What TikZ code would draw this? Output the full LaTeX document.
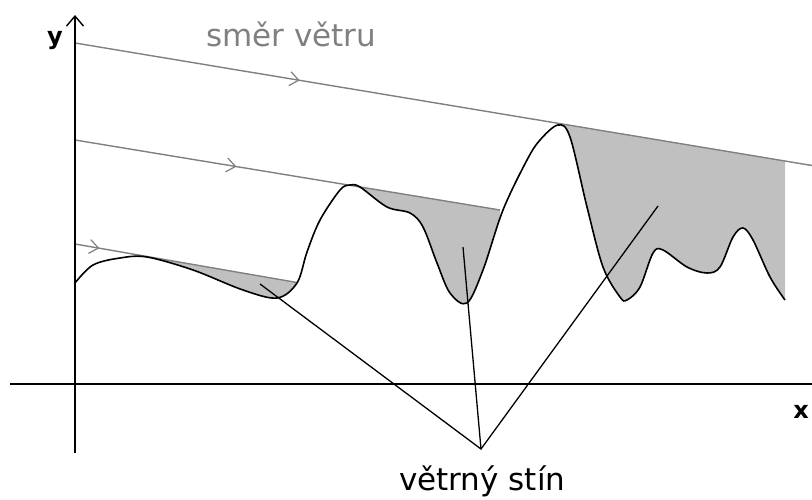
\documentclass[tikz,border=0pt]{standalone}
\usepackage{fontspec}
\setmainfont{DejaVu Sans}
\usetikzlibrary{arrows.meta,decorations.markings}
\definecolor{windgray}{RGB}{128,128,128}
\definecolor{shadowgray}{RGB}{192,192,192}
\tikzset{
  wind/.style={draw=windgray, line width=1.4pt},
  windarrow/.style={postaction={decorate}, decoration={markings,
      mark=at position #1 with {\arrow{Straight Barb[length=9pt,width=14pt,line width=1.2pt]}}}},
  ground/.style={draw=black, line width=1.6pt},
  pointer/.style={draw=black, line width=1.3pt},
  axis/.style={draw=black, line width=1.8pt},
  label/.style={inner sep=0pt, font=\fontsize{31}{36}\selectfont},
  axlabel/.style={inner sep=0pt, font=\fontsize{24}{28}\selectfont\bfseries}
}
\newcommand{\terrain}{plot[smooth, tension=0.55] coordinates {
  (75,283) (93,265) (120,258) (147,257) (193,270) (243,290) (277,298)
  (297,283) (307,252) (320,220) (340,190) (350,185) (360,187) (387,207)
  (410,213) (423,227) (437,263) (450,293) (467,303) (483,270) (503,210)
  (527,160) (540,140) (558,125) (570,137) (587,207) (603,267) (620,297)
  (627,300) (640,287) (653,253) (663,250) (687,267) (707,273) (720,267)
  (733,237) (743,228) (753,240) (770,277) (785,300)}}
\begin{document}
\begin{tikzpicture}[x=1pt, y=-1pt]
  \useasboundingbox (0,0) rectangle (812,500);

  % wind lines, start on the y axis
  \coordinate (w1a) at (75,43);
  \coordinate (w1b) at (812,165.5);
  \coordinate (w2a) at (75,140);
  \coordinate (w2b) at (500,210);
  \coordinate (w3a) at (75,244);
  \coordinate (w3b) at (297,282.5);

  % shadows
  \begin{scope}
    \clip (148,0) rectangle (297,400);
    \clip (w3a) -- (w3b) -- (297,500) -- (75,500) -- cycle;
    \fill[shadowgray] \terrain -- (785,0) -- (75,0) -- cycle;
  \end{scope}
  \begin{scope}
    \clip (350,0) rectangle (500,400);
    \clip (w2a) -- (w2b) -- (500,500) -- (75,500) -- cycle;
    \fill[shadowgray] \terrain -- (785,0) -- (75,0) -- cycle;
  \end{scope}
  \begin{scope}
    \clip (558,0) rectangle (785,400);
    \clip (w1a) -- (w1b) -- (812,500) -- (75,500) -- cycle;
    \fill[shadowgray] \terrain -- (785,0) -- (75,0) -- cycle;
  \end{scope}

  \draw[wind, windarrow=0.305] (w1a) -- (w1b);
  \draw[wind, windarrow=0.38] (w2a) -- (w2b);
  \draw[wind, windarrow=0.11] (w3a) -- (w3b);

  % terrain
  \draw[ground] \terrain;

  % axes
  \coordinate (o) at (75,384);
  \coordinate (ytop) at (75,15);
  \coordinate (ybot) at (75,453);
  \coordinate (xleft) at (10,384);
  \coordinate (xright) at (812,384);
  \draw[axis] (xleft) -- (xright);
  \draw[axis, -{Straight Barb[length=10pt,width=17pt,line width=1.4pt]}] (ybot) -- (ytop);
  \node[axlabel, anchor=base west] (ylab) at (47,45) {y};
  \node[axlabel, anchor=base] (xlab) at (801,418) {x};

  % labels
  \node[label, text=windgray, anchor=base west] (smer) at (206,47) {směr větru};
  \node[label, anchor=base west] (stin) at (399,490) {větrný stín};

  % pointers to the shadows
  \coordinate (hub) at (481,449);
  \coordinate (s1) at (260,284);
  \coordinate (s2) at (463,247);
  \coordinate (s3) at (658,206);
  \draw[pointer] (s1) -- (hub) -- (s3);
  \draw[pointer] (s2) -- (hub);
\end{tikzpicture}
\end{document}
